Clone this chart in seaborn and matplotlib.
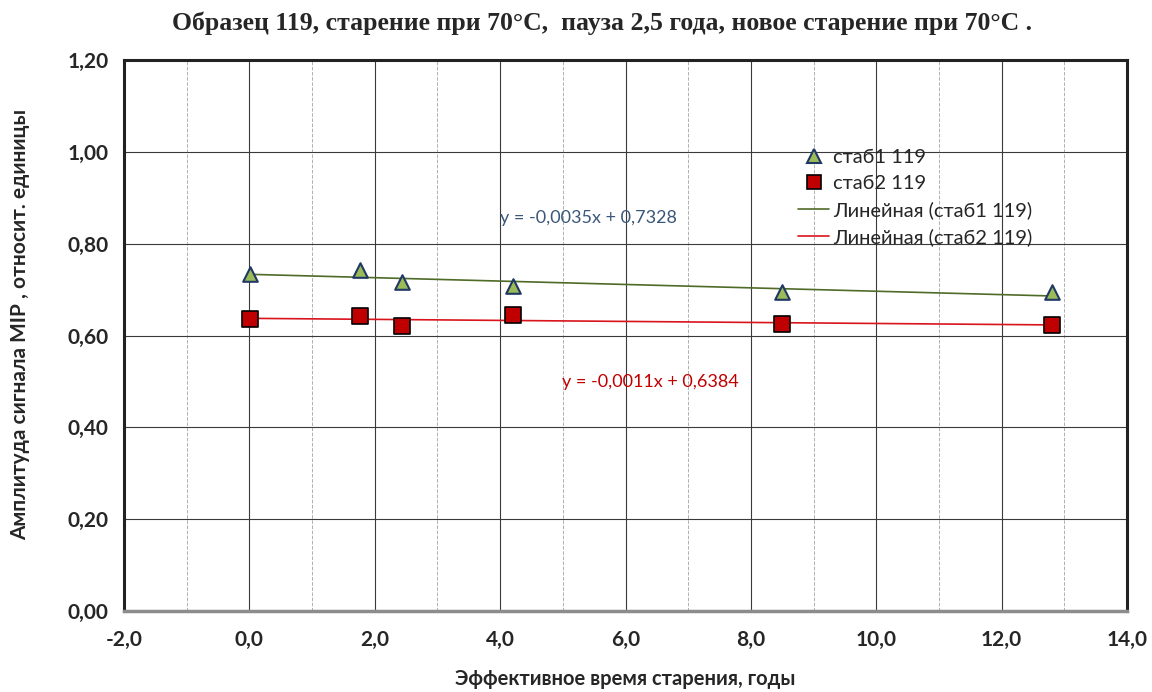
import seaborn as sns
import pandas as pd
import numpy as np
import matplotlib.pyplot as plt
from matplotlib.lines import Line2D

# Данные
time_years = [0.01, 1.77, 2.44, 4.20, 8.50, 12.80]
stab1 = [0.735, 0.743, 0.717, 0.707, 0.694, 0.694]
stab2 = [0.636, 0.643, 0.620, 0.644, 0.625, 0.623]

x_ticks = [-2, 0, 2, 4, 6, 8, 10, 12, 14]
x_tick_labels = ['-2,0', '0,0', '2,0', '4,0', '6,0', '8,0', '10,0', '12,0', '14,0']
y_ticks = [0.0, 0.2, 0.4, 0.6, 0.8, 1.0, 1.2]
y_tick_labels = ['0,00', '0,20', '0,40', '0,60', '0,80', '1,00', '1,20']

eq1 = 'y = -0,0035x + 0,7328'
eq2 = 'y = -0,0011x + 0,6384'

df = pd.DataFrame({'t': time_years, 'стаб1 119': stab1, 'стаб2 119': stab2})

sns.set_style("white")
plt.rcParams['font.family'] = ['Lato', 'DejaVu Sans']

fig = plt.figure(figsize=(11.52, 6.92), dpi=100)
ax = fig.add_axes([124 / 1152, 1 - 611 / 692, (1127 - 124) / 1152, (611 - 60) / 692])

green_line = '#4F6B28'
red_line = '#D9141B'

# линии тренда
sns.regplot(x='t', y='стаб1 119', data=df, scatter=False, ci=None, ax=ax,
            line_kws={'color': green_line, 'lw': 1.2})
sns.regplot(x='t', y='стаб2 119', data=df, scatter=False, ci=None, ax=ax,
            line_kws={'color': red_line, 'lw': 1.2})

# точки
sns.scatterplot(x='t', y='стаб1 119', data=df, ax=ax, marker='^', s=110,
                color='#9BBB59', edgecolor='#1F3864', linewidth=1.5, zorder=5)
sns.scatterplot(x='t', y='стаб2 119', data=df, ax=ax, marker='s', s=130,
                color='#C00000', edgecolor='black', linewidth=1.2, zorder=5)

ax.set_xlim(-2, 14)
ax.set_ylim(0, 1.2)
ax.set_xticks(x_ticks)
ax.set_xticklabels(x_tick_labels, fontsize=15, fontweight='bold')
ax.set_yticks(y_ticks)
ax.set_yticklabels(y_tick_labels, fontsize=15, fontweight='bold')
ax.set_xticks([-1, 1, 3, 5, 7, 9, 11, 13], minor=True)
ax.tick_params(axis='x', which='major', pad=14, length=0)
ax.tick_params(axis='y', which='major', pad=11, length=0)
ax.tick_params(which='minor', length=0)

ax.grid(True, which='major', axis='both', color='#3a3a3a', lw=0.8)
ax.grid(True, which='minor', axis='x', color='#b0b0b0', lw=0.7, ls='--')
ax.set_axisbelow(True)

for side in ['top', 'left', 'right']:
    ax.spines[side].set_color('#222222')
    ax.spines[side].set_linewidth(2.2)
ax.spines['bottom'].set_color('#8c8c8c')
ax.spines['bottom'].set_linewidth(2.5)

ax.set_xlabel('Эффективное время старения, годы', fontsize=14.5, fontweight='bold')
ax.set_ylabel('Амплитуда сигнала МIР , относит. единицы', fontsize=15, fontweight='bold')
ax.xaxis.set_label_coords(0.5, -0.106)
ax.yaxis.set_label_coords(-0.094, 0.52)

fig.suptitle('Образец 119, старение при 70°С,  пауза 2,5 года, новое старение при 70°С .',
             x=0.523, y=0.984, fontsize=18.5, fontweight='bold', family=['Liberation Serif'])

ax.text(4.0, 0.855, eq1, fontsize=13, color='#3A5779', va='center', ha='left')
ax.text(4.98, 0.498, eq2, fontsize=13, color='#C00000', va='center', ha='left')

handles = [
    Line2D([], [], ls='none', marker='^', markersize=10, markerfacecolor='#9BBB59',
           markeredgecolor='#1F3864', markeredgewidth=1.5, label='стаб1 119'),
    Line2D([], [], ls='none', marker='s', markersize=10, markerfacecolor='#C00000',
           markeredgecolor='black', markeredgewidth=1.2, label='стаб2 119'),
    Line2D([], [], color=green_line, lw=1.2, label='Линейная (стаб1 119)'),
    Line2D([], [], color=red_line, lw=1.2, label='Линейная (стаб2 119)'),
]
ax.legend(handles=handles, loc='upper left', bbox_to_anchor=(0.672, 0.839), frameon=False,
          fontsize=14.5, handlelength=1.55, handletextpad=0.2, labelspacing=0.46,
          borderpad=0, borderaxespad=0)

fig.savefig('out.png', dpi=100)
